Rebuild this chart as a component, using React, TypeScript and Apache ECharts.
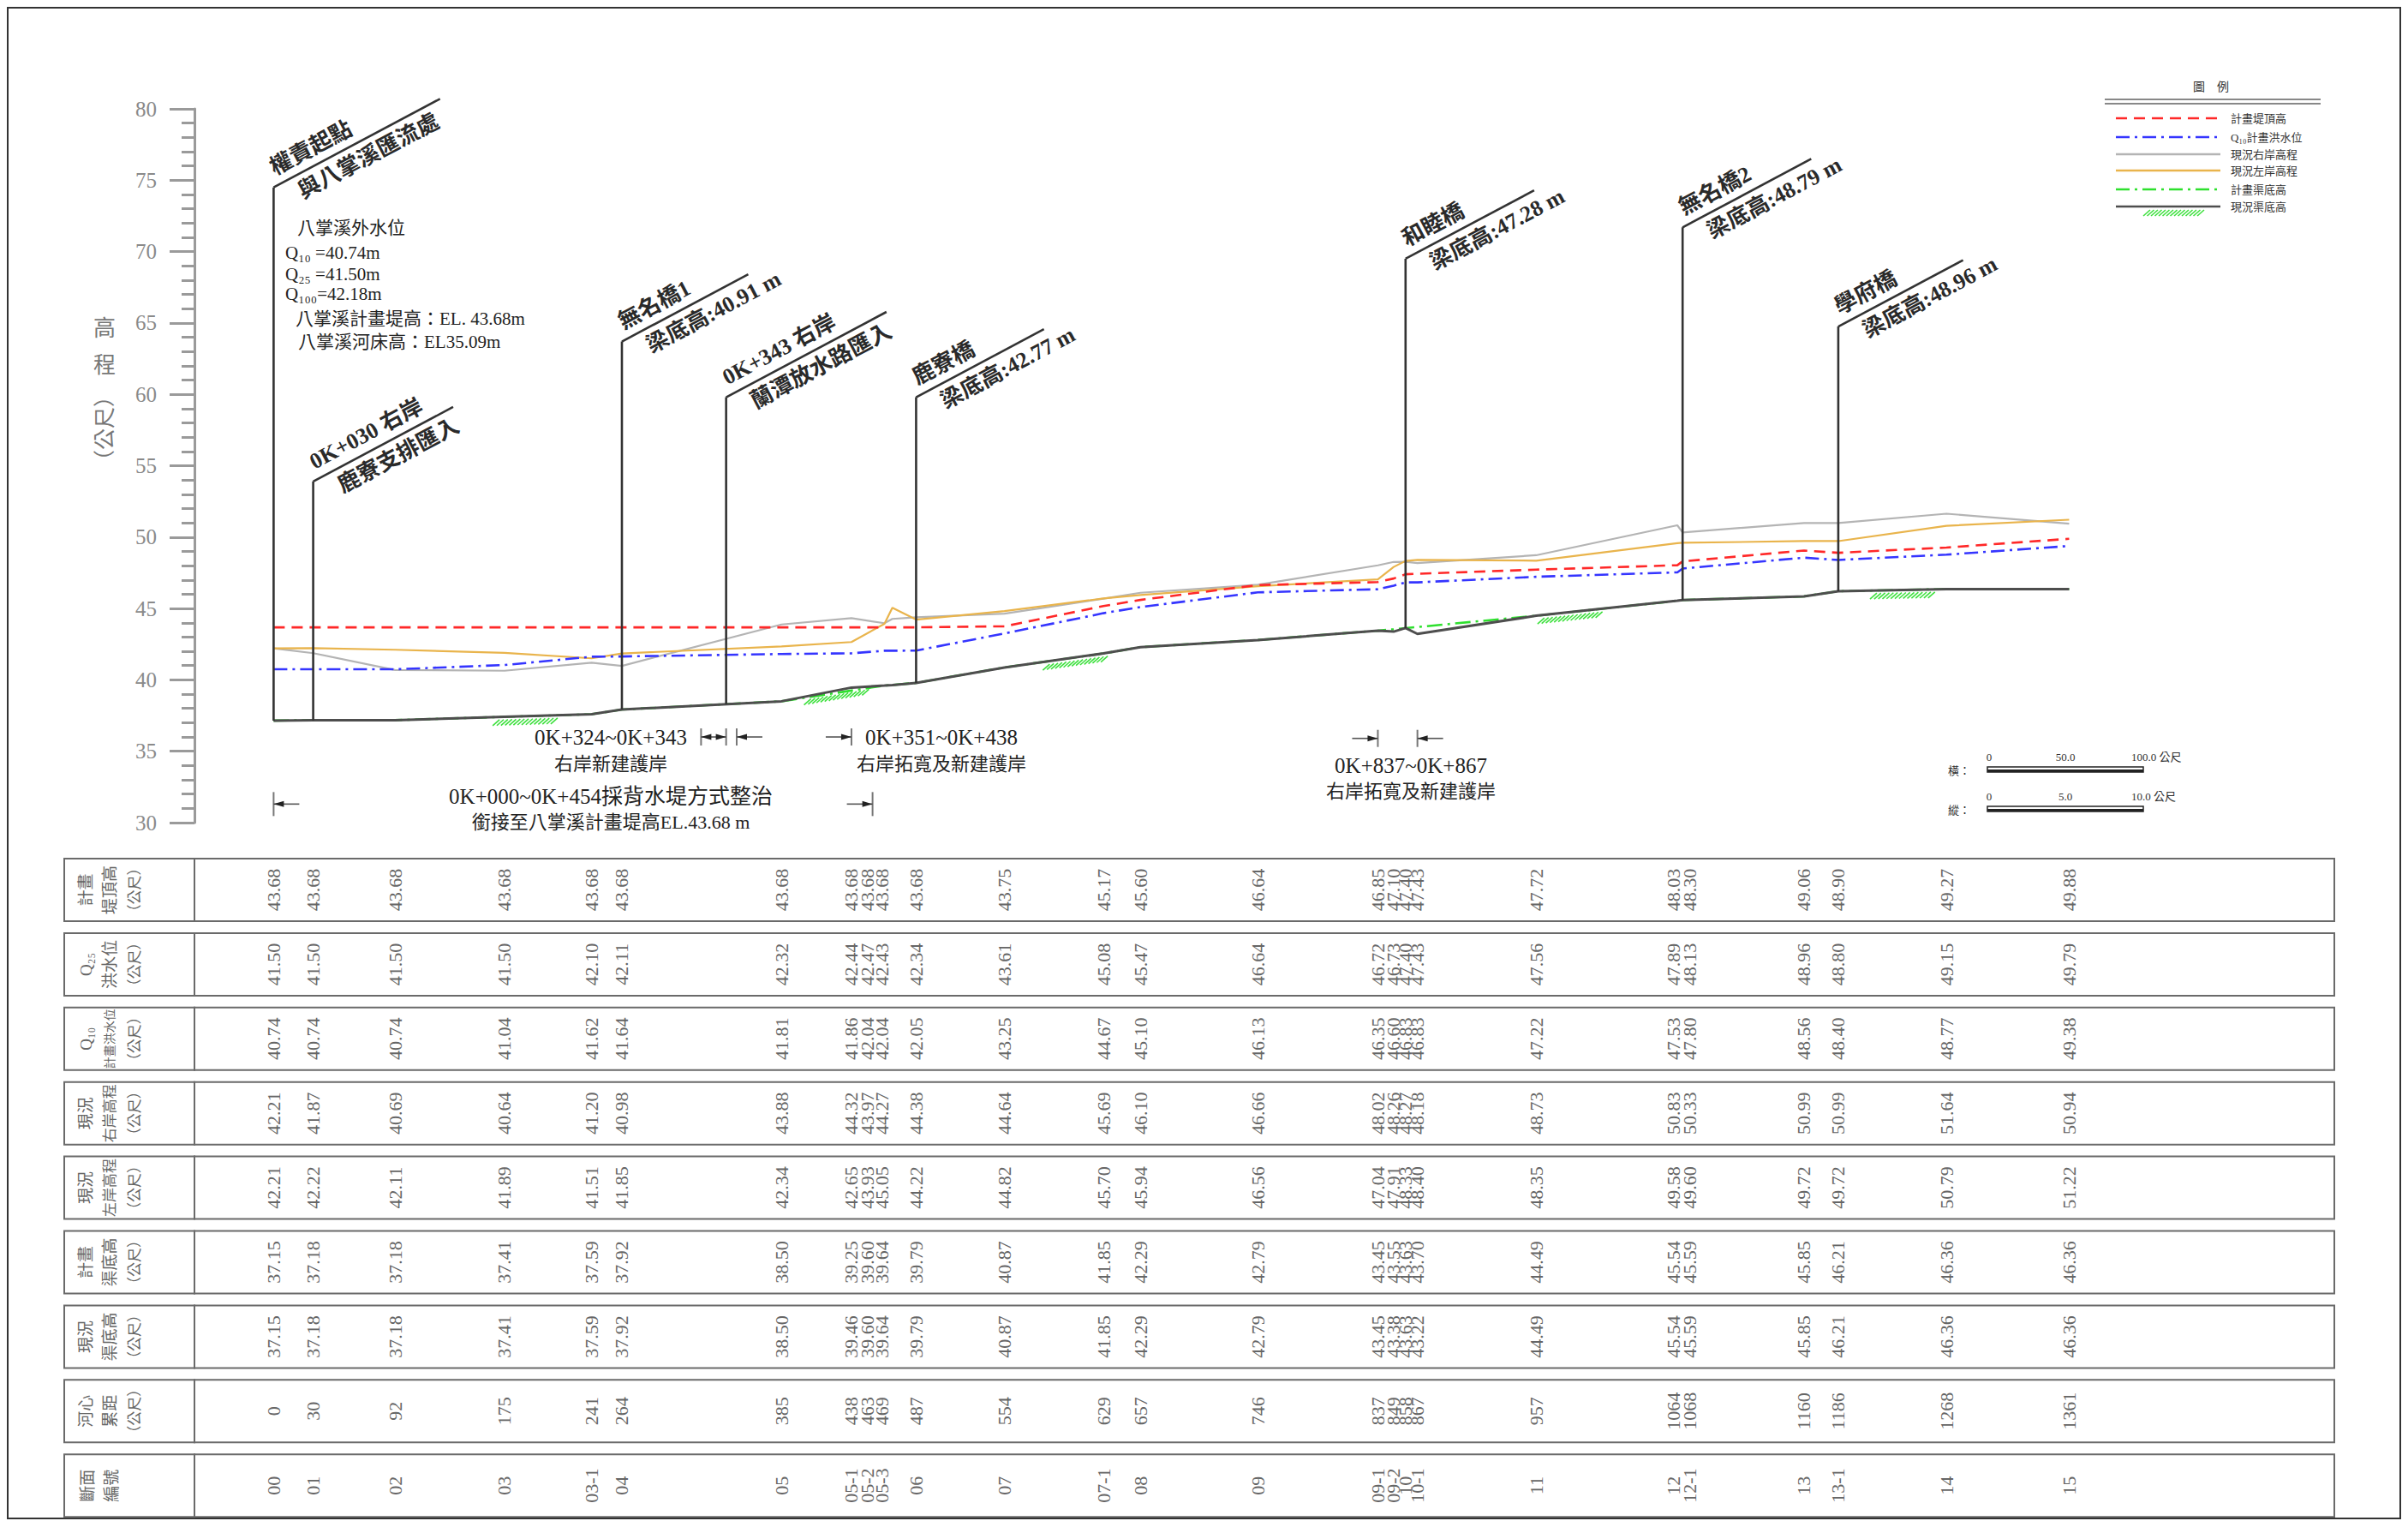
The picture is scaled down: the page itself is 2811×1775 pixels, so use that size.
import React, { useEffect, useRef } from "react";
import * as echarts from "echarts";

// ---------------- data ----------------
const sectionIds = ["00", "01", "02", "03", "03-1", "04", "05", "05-1", "05-2", "05-3", "06", "07", "07-1", "08", "09", "09-1", "09-2", "10", "10-1", "11", "12", "12-1", "13", "13-1", "14", "15"];
const distances = [0, 30, 92, 175, 241, 264, 385, 438, 463, 469, 487, 554, 629, 657, 746, 837, 849, 858, 867, 957, 1064, 1068, 1160, 1186, 1268, 1361];
const planLevee = [43.68, 43.68, 43.68, 43.68, 43.68, 43.68, 43.68, 43.68, 43.68, 43.68, 43.68, 43.75, 45.17, 45.6, 46.64, 46.85, 47.1, 47.4, 47.43, 47.72, 48.03, 48.3, 49.06, 48.9, 49.27, 49.88];
const q25 = [41.5, 41.5, 41.5, 41.5, 42.1, 42.11, 42.32, 42.44, 42.47, 42.43, 42.34, 43.61, 45.08, 45.47, 46.64, 46.72, 46.73, 47.4, 47.43, 47.56, 47.89, 48.13, 48.96, 48.8, 49.15, 49.79];
const q10 = [40.74, 40.74, 40.74, 41.04, 41.62, 41.64, 41.81, 41.86, 42.04, 42.04, 42.05, 43.25, 44.67, 45.1, 46.13, 46.35, 46.6, 46.83, 46.83, 47.22, 47.53, 47.8, 48.56, 48.4, 48.77, 49.38];
const rightBank = [42.21, 41.87, 40.69, 40.64, 41.2, 40.98, 43.88, 44.32, 43.97, 44.27, 44.38, 44.64, 45.69, 46.1, 46.66, 48.02, 48.26, 48.27, 48.18, 48.73, 50.83, 50.33, 50.99, 50.99, 51.64, 50.94];
const leftBank = [42.21, 42.22, 42.11, 41.89, 41.51, 41.85, 42.34, 42.65, 43.93, 45.05, 44.22, 44.82, 45.7, 45.94, 46.56, 47.04, 47.91, 48.33, 48.4, 48.35, 49.58, 49.6, 49.72, 49.72, 50.79, 51.22];
const planBed = [37.15, 37.18, 37.18, 37.41, 37.59, 37.92, 38.5, 39.25, 39.6, 39.64, 39.79, 40.87, 41.85, 42.29, 42.79, 43.45, 43.55, 43.63, 43.7, 44.49, 45.54, 45.59, 45.85, 46.21, 46.36, 46.36];
const existBed = [37.15, 37.18, 37.18, 37.41, 37.59, 37.92, 38.5, 39.46, 39.6, 39.64, 39.79, 40.87, 41.85, 42.29, 42.79, 43.45, 43.38, 43.63, 43.22, 44.49, 45.54, 45.59, 45.85, 46.21, 46.36, 46.36];

const yTicks = [30, 35, 40, 45, 50, 55, 60, 65, 70, 75, 80];

const markerDist = [0, 30, 264, 343, 487, 858, 1068, 1186];
const markerBase = [37.15, 37.18, 37.92, 38.3, 39.79, 43.63, 45.59, 46.21];
const markerTop = [74.5, 53.9, 63.7, 59.8, 59.8, 69.5, 71.7, 64.75];
const markerUpper = ["權責起點", "0K+030 右岸", "無名橋1", "0K+343 右岸", "鹿寮橋", "和睦橋", "無名橋2", "學府橋"];
const markerLower = ["與八掌溪匯流處", "鹿寮支排匯入", "梁底高:40.91 m", "蘭潭放水路匯入", "梁底高:42.77 m", "梁底高:47.28 m", "梁底高:48.79 m", "梁底高:48.96 m"];

const hatchDist = [190, 426, 607, 982, 1234];

const dimFrom = [324, 351, 837, 0];
const dimTo = [343, 438, 867, 454];
const dimLevel = [36.0, 36.0, 35.9, 31.3];

const rowHeaders = [
  ["計畫", "堤頂高", "（公尺）"],
  ["Q₂₅", "洪水位", "（公尺）"],
  ["Q₁₀", "計畫洪水位", "（公尺）"],
  ["現況", "右岸高程", "（公尺）"],
  ["現況", "左岸高程", "（公尺）"],
  ["計畫", "渠底高", "（公尺）"],
  ["現況", "渠底高", "（公尺）"],
  ["河心", "累距", "（公尺）"],
  ["斷面", "編號"],
];

// ---------------- layout / style (pixels) ----------------
const W = 2811;
const H = 1775;
const GL = 227;
const GR = 86;
const PT = 127;
const PH = 833;
const ROW_TOP = 1002;
const ROW_PITCH = 86.9;
const ROW_H = 73;
const TABLE_L = 75;
const XMIN = -60;
const XMAX = 1562;
const ANG = (28 * Math.PI) / 180;
const slantLen = [220, 185, 167, 212, 169, 170, 170, 165];
const dimMode = [0, 0, 1, 0];
const labelNudge: Record<number, number> = { 8: -20, 9: -12, 20: -5, 21: 8 };

const SERIF = '"Liberation Serif", "Noto Sans CJK TC", serif';
const CJK = '"Liberation Serif", "Noto Sans CJK TC", sans-serif';

function bedAt(d: number) {
  for (let i = 0; i < distances.length - 1; i++) {
    if (d >= distances[i] && d <= distances[i + 1]) {
      const t = (d - distances[i]) / (distances[i + 1] - distances[i]);
      return existBed[i] + t * (existBed[i + 1] - existBed[i]);
    }
  }
  return existBed[existBed.length - 1];
}

function hatchChildren(x1: number, y1: number, x2: number, y2: number) {
  const n = 14;
  const out: any[] = [];
  for (let k = 0; k <= n; k++) {
    const t = k / n;
    const bx = x1 + (x2 - x1) * t;
    const by = y1 + (y2 - y1) * t + 3;
    out.push({
      type: "line",
      shape: { x1: bx - 3, y1: by + 7, x2: bx + 5, y2: by },
      style: { stroke: "#3fe03f", lineWidth: 1.6 },
    });
  }
  return out;
}

function buildOption() {
  const grids: any[] = [{ left: GL, right: GR, top: PT, height: PH, show: false }];
  const xAxes: any[] = [{ type: "value", gridIndex: 0, min: XMIN, max: XMAX, show: false }];
  const yAxes: any[] = [
    {
      type: "value",
      gridIndex: 0,
      position: "left",
      min: yTicks[0],
      max: yTicks[yTicks.length - 1],
      interval: 5,
      axisLine: { show: true, onZero: false, lineStyle: { color: "#9a9a9a", width: 3 } },
      axisTick: { show: true, length: 29, lineStyle: { color: "#9a9a9a", width: 3 } },
      minorTick: { show: true, splitNumber: 5, length: 15, lineStyle: { color: "#9a9a9a", width: 3 } },
      axisLabel: { margin: 44, fontSize: 25, color: "#8a8a8a", fontFamily: SERIF },
      splitLine: { show: false },
    },
  ];
  for (let r = 0; r < 9; r++) {
    grids.push({
      left: GL,
      right: GR,
      top: ROW_TOP + r * ROW_PITCH,
      height: ROW_H,
      show: true,
      borderColor: "#6a6a6a",
      borderWidth: 2,
    });
    xAxes.push({ type: "value", gridIndex: r + 1, min: XMIN, max: XMAX, show: false });
    yAxes.push({ type: "value", gridIndex: r + 1, min: 0, max: 1, show: false });
  }

  const pts = (arr: number[]) => distances.map((d, i) => [d, arr[i]]);
  const line = (name: string, arr: number[], color: string, width: number, dash: any, z: number) => ({
    name,
    type: "line",
    xAxisIndex: 0,
    yAxisIndex: 0,
    data: pts(arr),
    symbol: "none",
    z,
    lineStyle: { color, width, type: dash },
  });

  const series: any[] = [
    line("計畫渠底高", planBed, "#2ee02e", 2.6, [18, 6, 3, 6], 3),
    line("現況渠底高", existBed, "#4e4e4e", 3, "solid", 4),
    line("現況右岸高程", rightBank, "#b4b4b4", 2.2, "solid", 5),
    line("現況左岸高程", leftBank, "#e9b44c", 2.2, "solid", 6),
    line("Q10計畫洪水位", q10, "#3535ff", 2.6, [16, 6, 3, 6], 7),
    line("計畫堤頂高", planLevee, "#ff2828", 2.6, [13, 8], 8),
  ];

  // bridge / inlet markers
  series.push({
    type: "custom",
    xAxisIndex: 0,
    yAxisIndex: 0,
    z: 10,
    data: markerDist.map((d, i) => [d, markerBase[i], markerTop[i], i]),
    renderItem: (params: any, api: any) => {
      const i = api.value(3);
      const b = api.coord([api.value(0), api.value(1)]);
      const t = api.coord([api.value(0), api.value(2)]);
      const L = slantLen[i];
      const ca = Math.cos(ANG);
      const sa = Math.sin(ANG);
      const nx = -sa;
      const ny = -ca;
      const e = [t[0] + L * ca, t[1] - L * sa];
      const up = [t[0] + 8 * ca + 20 * nx, t[1] - 8 * sa + 20 * ny];
      const lo = [t[0] + 24 * ca - 20 * nx, t[1] - 24 * sa - 20 * ny];
      const ts = { align: "left", verticalAlign: "middle", fontSize: 26, fontFamily: CJK, fontWeight: "bold", fill: "#2a2a2a" };
      return {
        type: "group",
        children: [
          { type: "line", shape: { x1: b[0], y1: b[1], x2: t[0], y2: t[1] }, style: { stroke: "#333", lineWidth: 2.6 } },
          { type: "line", shape: { x1: t[0], y1: t[1], x2: e[0], y2: e[1] }, style: { stroke: "#333", lineWidth: 2.6 } },
          { type: "text", x: up[0], y: up[1], rotation: ANG, style: { ...ts, text: markerUpper[i] } },
          { type: "text", x: lo[0], y: lo[1], rotation: ANG, style: { ...ts, text: markerLower[i] } },
        ],
      };
    },
  });

  // green hatch under the existing bed
  series.push({
    type: "custom",
    xAxisIndex: 0,
    yAxisIndex: 0,
    z: 2,
    data: hatchDist.map((d) => [d, bedAt(d)]),
    renderItem: (params: any, api: any) => {
      const d = api.value(0);
      const p1 = api.coord([d - 22, bedAt(d - 22)]);
      const p2 = api.coord([d + 22, bedAt(d + 22)]);
      return { type: "group", children: hatchChildren(p1[0], p1[1], p2[0], p2[1]) };
    },
  });

  // dimension arrows
  series.push({
    type: "custom",
    xAxisIndex: 0,
    yAxisIndex: 0,
    z: 9,
    data: dimFrom.map((d, i) => [d, dimLevel[i], dimTo[i], i]),
    renderItem: (params: any, api: any) => {
      const i = api.value(3);
      const a = api.coord([api.value(0), api.value(1)]);
      const b = api.coord([api.value(2), api.value(1)]);
      const y = a[1];
      const th = i === 3 ? 14 : 10;
      const ch: any[] = [
        { type: "line", shape: { x1: a[0], y1: y - th, x2: a[0], y2: y + th }, style: { stroke: "#777", lineWidth: 2 } },
        { type: "line", shape: { x1: b[0], y1: y - th, x2: b[0], y2: y + th }, style: { stroke: "#777", lineWidth: 2 } },
      ];
      const arrow = (from: number, tip: number) => {
        const dir = tip > from ? 1 : -1;
        ch.push({ type: "line", shape: { x1: from, y1: y, x2: tip, y2: y }, style: { stroke: "#555", lineWidth: 1.6 } });
        ch.push({
          type: "polygon",
          shape: { points: [[tip, y], [tip - dir * 12, y - 3.5], [tip - dir * 12, y + 3.5]] },
          style: { fill: "#222" },
        });
      };
      if (dimMode[i] === 0) {
        const L = Math.min(30, (b[0] - a[0]) / 2);
        arrow(a[0] + L, a[0]);
        arrow(b[0] - L, b[0]);
      } else {
        arrow(a[0] - 30, a[0]);
        arrow(b[0] + 30, b[0]);
      }
      return { type: "group", children: ch };
    },
  });

  // table rows
  const rowTexts: string[][] = [
    planLevee.map((v) => v.toFixed(2)),
    q25.map((v) => v.toFixed(2)),
    q10.map((v) => v.toFixed(2)),
    rightBank.map((v) => v.toFixed(2)),
    leftBank.map((v) => v.toFixed(2)),
    planBed.map((v) => v.toFixed(2)),
    existBed.map((v) => v.toFixed(2)),
    distances.map((v) => String(v)),
    sectionIds,
  ];
  rowTexts.forEach((texts, r) => {
    series.push({
      type: "custom",
      xAxisIndex: r + 1,
      yAxisIndex: r + 1,
      data: distances.map((d, i) => [d, 0.5, i]),
      renderItem: (params: any, api: any) => {
        const i = api.value(2);
        const p = api.coord([api.value(0), api.value(1)]);
        return {
          type: "text",
          x: p[0] + (labelNudge[i] || 0),
          y: p[1],
          rotation: Math.PI / 2,
          style: { text: texts[i], align: "center", verticalAlign: "middle", fontSize: 22, fontFamily: SERIF, fill: "#666" },
        };
      },
    });
  });

  // ---------------- graphic ----------------
  const g: any[] = [];
  g.push({ type: "rect", shape: { x: 9, y: 9, width: 2793, height: 1763 }, style: { fill: "none", stroke: "#333", lineWidth: 2 }, z: 0 });

  // y axis name
  g.push({ type: "text", x: 122, y: 383, style: { text: "高", align: "center", verticalAlign: "middle", fontSize: 26, fontFamily: CJK, fill: "#777" } });
  g.push({ type: "text", x: 122, y: 426, style: { text: "程", align: "center", verticalAlign: "middle", fontSize: 26, fontFamily: CJK, fill: "#777" } });
  g.push({ type: "text", x: 122, y: 500, rotation: Math.PI / 2, style: { text: "（公尺）", align: "center", verticalAlign: "middle", fontSize: 25, fontFamily: CJK, fill: "#777" } });

  // upper-left notes
  const notes = [
    { t: "八掌溪外水位", x: 347, y: 266 },
    { t: "Q₁₀ =40.74m", x: 333, y: 295 },
    { t: "Q₂₅ =41.50m", x: 333, y: 320 },
    { t: "Q₁₀₀=42.18m", x: 333, y: 343 },
    { t: "八掌溪計畫堤高：EL. 43.68m", x: 345, y: 372 },
    { t: "八掌溪河床高：EL35.09m", x: 348, y: 399 },
  ];
  notes.forEach((n) =>
    g.push({ type: "text", x: n.x, y: n.y, style: { text: n.t, align: "left", verticalAlign: "middle", fontSize: 21, fontFamily: CJK, fill: "#222" } })
  );

  // bottom annotations
  const ann = [
    { t: "0K+324~0K+343", x: 713, y: 860, s: 25 },
    { t: "右岸新建護岸", x: 713, y: 891, s: 22 },
    { t: "0K+351~0K+438", x: 1099, y: 860, s: 25 },
    { t: "右岸拓寬及新建護岸", x: 1099, y: 891, s: 22 },
    { t: "0K+837~0K+867", x: 1647, y: 893, s: 25 },
    { t: "右岸拓寬及新建護岸", x: 1647, y: 923, s: 22 },
    { t: "0K+000~0K+454採背水堤方式整治", x: 713, y: 929, s: 25 },
    { t: "銜接至八掌溪計畫堤高EL.43.68 m", x: 713, y: 959, s: 22 },
  ];
  ann.forEach((a) =>
    g.push({ type: "text", x: a.x, y: a.y, style: { text: a.t, align: "center", verticalAlign: "middle", fontSize: a.s, fontFamily: CJK, fill: "#222" } })
  );

  // legend
  g.push({ type: "text", x: 2581, y: 101, style: { text: "圖　例", align: "center", verticalAlign: "middle", fontSize: 14, fontFamily: CJK, fill: "#333" } });
  g.push({ type: "line", shape: { x1: 2457, y1: 116, x2: 2709, y2: 116 }, style: { stroke: "#888", lineWidth: 2 } });
  g.push({ type: "line", shape: { x1: 2457, y1: 121, x2: 2709, y2: 121 }, style: { stroke: "#888", lineWidth: 2 } });
  const leg = [
    { t: "計畫堤頂高", c: "#ff2828", d: [13, 8] },
    { t: "Q₁₀計畫洪水位", c: "#3535ff", d: [16, 6, 3, 6] },
    { t: "現況右岸高程", c: "#b4b4b4", d: null },
    { t: "現況左岸高程", c: "#e9b44c", d: null },
    { t: "計畫渠底高", c: "#2ee02e", d: [16, 6, 3, 6] },
    { t: "現況渠底高", c: "#4e4e4e", d: null },
  ];
  const legY = [138, 160, 180, 199, 221, 241];
  leg.forEach((l, i) => {
    g.push({
      type: "line",
      shape: { x1: 2470, y1: legY[i], x2: 2592, y2: legY[i] },
      style: { stroke: l.c, lineWidth: 2.4, lineDash: l.d || undefined },
    });
    g.push({ type: "text", x: 2604, y: legY[i], style: { text: l.t, align: "left", verticalAlign: "middle", fontSize: 13, fontFamily: CJK, fill: "#333" } });
  });
  g.push({ type: "group", children: hatchChildren(2505, 242, 2568, 242) });

  // scale bars
  const scaleBar = (y: number, label: string, mid: string, end: string) => {
    g.push({ type: "text", x: 2300, y: y + 4, style: { text: label, align: "right", verticalAlign: "middle", fontSize: 13, fontFamily: CJK, fill: "#333" } });
    g.push({ type: "text", x: 2322, y: y - 12, style: { text: "0", align: "center", verticalAlign: "middle", fontSize: 13, fontFamily: SERIF, fill: "#333" } });
    g.push({ type: "text", x: 2411, y: y - 12, style: { text: mid, align: "center", verticalAlign: "middle", fontSize: 13, fontFamily: SERIF, fill: "#333" } });
    g.push({ type: "text", x: 2488, y: y - 12, style: { text: end, align: "left", verticalAlign: "middle", fontSize: 13, fontFamily: CJK, fill: "#333" } });
    g.push({ type: "rect", shape: { x: 2320, y: y, width: 182, height: 6 }, style: { fill: "#fff", stroke: "#222", lineWidth: 1.5 } });
    g.push({ type: "rect", shape: { x: 2320, y: y + 3, width: 182, height: 3 }, style: { fill: "#222" } });
  };
  scaleBar(895, "橫：", "50.0", "100.0 公尺");
  scaleBar(941, "縱：", "5.0", "10.0 公尺");

  // table headers
  const colX: Record<number, number[]> = { 2: [102, 130], 3: [100, 128, 157] };
  rowHeaders.forEach((cols, r) => {
    const top = ROW_TOP + r * ROW_PITCH;
    g.push({ type: "rect", shape: { x: TABLE_L, y: top, width: GL - TABLE_L, height: ROW_H }, style: { fill: "none", stroke: "#6a6a6a", lineWidth: 2 } });
    const xs = colX[cols.length];
    cols.forEach((c, k) => {
      const fs = c.length >= 5 ? 14 : c.length === 4 ? 17 : 19;
      g.push({
        type: "text",
        x: xs[k],
        y: top + ROW_H / 2,
        rotation: Math.PI / 2,
        style: { text: c, align: "center", verticalAlign: "middle", fontSize: fs, fontFamily: CJK, fill: "#666" },
      });
    });
  });

  return {
    animation: false,
    backgroundColor: "#ffffff",
    grid: grids,
    xAxis: xAxes,
    yAxis: yAxes,
    series,
    graphic: g,
  };
}

export default function App() {
  const ref = useRef<HTMLDivElement>(null);
  useEffect(() => {
    document.body.style.margin = "0";
    const chart = echarts.init(ref.current as HTMLDivElement, null, { renderer: "svg" });
    chart.setOption(buildOption() as any);
    return () => chart.dispose();
  }, []);
  return <div ref={ref} style={{ width: W, height: H, background: "#fff" }} />;
}
